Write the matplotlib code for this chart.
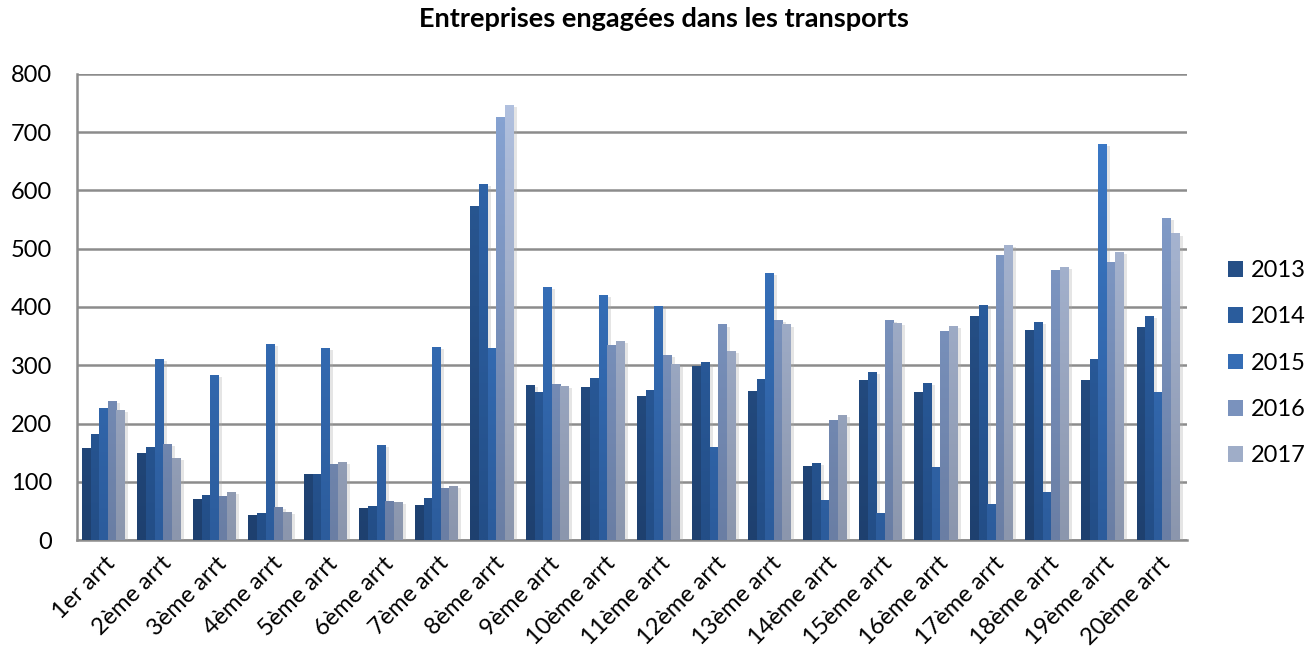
import numpy as np
import matplotlib
matplotlib.use("Agg")
import matplotlib.pyplot as plt
import matplotlib.patheffects as pe
from matplotlib.colors import to_rgb
from matplotlib.patches import Patch

categories = ["1er arrt", "2ème arrt", "3ème arrt", "4ème arrt", "5ème arrt",
              "6ème arrt", "7ème arrt", "8ème arrt", "9ème arrt", "10ème arrt",
              "11ème arrt", "12ème arrt", "13ème arrt", "14ème arrt", "15ème arrt",
              "16ème arrt", "17ème arrt", "18ème arrt", "19ème arrt", "20ème arrt"]

years = ["2013", "2014", "2015", "2016", "2017"]

v2013 = [158, 150, 71, 43, 114, 55, 60, 573, 267, 262, 248, 298, 256, 127, 275, 255, 384, 361, 275, 366]
v2014 = [182, 160, 77, 46, 114, 58, 72, 611, 255, 279, 258, 305, 277, 133, 289, 270, 404, 375, 311, 384]
v2015 = [227, 311, 284, 337, 329, 163, 332, 329, 434, 420, 401, 160, 458, 69, 46, 126, 62, 83, 680, 255]
v2016 = [239, 165, 76, 57, 131, 67, 89, 726, 268, 334, 317, 370, 378, 206, 378, 358, 489, 464, 477, 552]
v2017 = [224, 141, 83, 48, 134, 65, 93, 747, 265, 341, 303, 325, 370, 215, 372, 368, 506, 468, 495, 526]

series = [v2013, v2014, v2015, v2016, v2017]

# (top colour, bottom colour) of each year's vertical gradient
grad_colors = [("#2C5E9D", "#1E406F"),
               ("#3169B1", "#234E87"),
               ("#3D7DCD", "#2C5C9C"),
               ("#89A6D6", "#6A7EA4"),
               ("#B3C3E2", "#8B96AD")]

plt.rcParams["font.family"] = ["Lato", "DejaVu Sans"]

fig = plt.figure(figsize=(13.06, 6.58), dpi=100)
ax = fig.add_axes([0.059, 0.179, 0.85, 0.709])

n = len(categories)
x = np.arange(n)
bw = 0.155
offsets = (np.arange(5) - 2) * bw

shadow = [pe.SimplePatchShadow(offset=(2.5, -1.5), shadow_rgbFace="#aaaaaa", alpha=0.3),
          pe.Normal()]

for k, (vals, (ctop, cbot)) in enumerate(zip(series, grad_colors)):
    bars = ax.bar(x + offsets[k] - 0.025, vals, width=bw, color=ctop,
                  zorder=3, linewidth=0, path_effects=shadow)
    top = np.array(to_rgb(ctop))
    bot = np.array(to_rgb(cbot))
    t = np.linspace(0, 1, 64)[:, None]
    grad = (bot * (1 - t) + top * t)[:, None, :]
    for b in bars:
        x0 = b.get_x()
        w = b.get_width()
        im = ax.imshow(grad, extent=(x0, x0 + w, 0, 800), origin="lower",
                       aspect="auto", zorder=4, interpolation="bilinear")
        im.set_clip_path(b)

ax.set_xlim(-0.5, n - 0.5)
ax.set_ylim(0, 800)
ax.set_yticks(np.arange(0, 801, 100))
ax.yaxis.grid(True, color="#8C8C8C", linewidth=1.8, zorder=0)
ax.set_axisbelow(True)
ax.tick_params(axis="both", length=0, labelsize=17, colors="black")
ax.tick_params(axis="y", pad=18)
ax.set_xticks(x)
ax.set_xticklabels(categories, rotation=45, ha="right", rotation_mode="anchor")
ax.tick_params(axis="x", pad=9)

for side in ("top", "right"):
    ax.spines[side].set_visible(False)
for side in ("left", "bottom"):
    ax.spines[side].set_color("#8C8C8C")
    ax.spines[side].set_linewidth(1.8)

fig.suptitle("Entreprises engagées dans les transports", x=0.508, y=0.99,
             fontsize=19.5, fontweight="bold", va="top")

handles = []
for y, (ctop, cbot) in zip(years, grad_colors):
    mid = (np.array(to_rgb(ctop)) + np.array(to_rgb(cbot))) / 2
    handles.append(Patch(facecolor=mid, edgecolor="none", label=y))
fig.legend(handles=handles, loc="center left", bbox_to_anchor=(0.940, 0.448),
           frameon=False, fontsize=17, handlelength=0.65, handleheight=0.65,
           handletextpad=0.35, labelspacing=1.07, borderpad=0, borderaxespad=0)

fig.savefig("out.png", dpi=100)
